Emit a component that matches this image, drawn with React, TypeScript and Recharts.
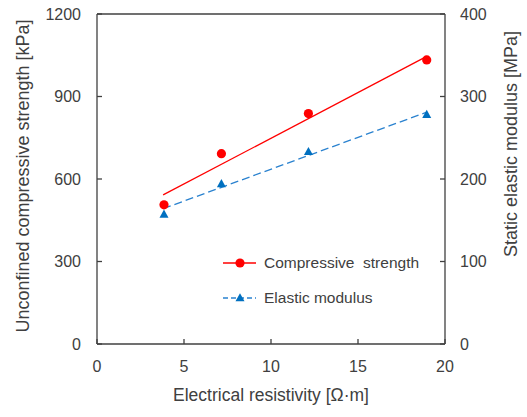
import { ComposedChart, Line, Scatter, XAxis, YAxis, ReferenceLine, Label } from 'recharts';

// measured points
const resistivity = [3.85, 7.15, 12.15, 18.95];
const strength = [506, 692, 838, 1033]; // kPa
const modulus = [157, 194, 233, 278]; // MPa

// fitted trend end points
const fitX = [3.8, 18.95];
const strengthFit = [542, 1046];
const modulusFit = [164, 281];

const xTicks = [0, 5, 10, 15, 20];
const kpaTicks = [0, 300, 600, 900, 1200];
const mpaTicks = [0, 100, 200, 300, 400];

const W = 527;
const H = 417;
const AXIS = '#404040';
const RED = '#ff0000';
const BLUE = '#0070c0';
const BLUE_LINE = '#2a82cf';
const FONT = '"Liberation Sans", Arial, sans-serif';
const TRI = 9;

const strengthPts = resistivity.map((x, i) => ({ x, y: strength[i] }));
const modulusPts = resistivity.map((x, i) => ({ x, y: modulus[i] }));
const strengthLine = fitX.map((x, i) => ({ x, y: strengthFit[i] }));
const modulusLine = fitX.map((x, i) => ({ x, y: modulusFit[i] }));

const tick = { fill: AXIS, fontSize: 16, fontFamily: FONT };

function Triangle({ cx, cy }: { cx?: number; cy?: number }) {
  if (cx == null || cy == null) return null;
  const h = TRI * 0.9;
  return (
    <path
      d={`M${cx},${cy - h * 0.6} L${cx + TRI / 2},${cy + h * 0.4} L${cx - TRI / 2},${cy + h * 0.4} Z`}
      fill={BLUE}
    />
  );
}

function Dot({ cx, cy }: { cx?: number; cy?: number }) {
  if (cx == null || cy == null) return null;
  return <circle cx={cx} cy={cy} r={4.6} fill={RED} />;
}

function Legend() {
  return (
    <svg width={W} height={H} style={{ position: 'absolute', left: 0, top: 0, pointerEvents: 'none' }}>
      <line x1={223} x2={256} y1={263} y2={263} stroke={RED} strokeWidth={1.3} />
      <circle cx={240} cy={263} r={4.6} fill={RED} />
      <text x={264} y={263} dy="0.35em" fontSize={15.5} fontFamily={FONT} fill={AXIS} style={{ whiteSpace: 'pre' }}>
        {'Compressive  strength'}
      </text>
      <line x1={223} x2={256} y1={298} y2={298} stroke={BLUE_LINE} strokeWidth={1.3} strokeDasharray="5 3" />
      <Triangle cx={240} cy={298} />
      <text x={264} y={298} dy="0.35em" fontSize={15.5} fontFamily={FONT} fill={AXIS}>
        Elastic modulus
      </text>
    </svg>
  );
}

export default function App() {
  return (
    <div style={{ position: 'absolute', left: 0, top: 0, width: W, height: H, background: '#fff' }}>
      <ComposedChart width={W} height={H} margin={{ top: 14, right: 22, bottom: 23, left: 37 }}>
        <XAxis
          type="number"
          dataKey="x"
          domain={[0, 20]}
          ticks={xTicks}
          tickSize={-5}
          tickMargin={22}
          height={50}
          stroke={AXIS}
          strokeWidth={1.3}
          tick={tick}
        >
          <Label
            content={() => (
              <text x={271} y={401} textAnchor="middle" fontSize={17.5} fontFamily={FONT} fill={AXIS}>
                Electrical resistivity [Ω·m]
              </text>
            )}
          />
        </XAxis>
        <YAxis
          yAxisId="kpa"
          type="number"
          domain={[0, 1200]}
          ticks={kpaTicks}
          tickSize={-5}
          tickMargin={21}
          width={60}
          stroke={AXIS}
          strokeWidth={1.3}
          tick={tick}
        >
          <Label
            content={() => (
              <text
                x={28.5}
                y={176}
                transform="rotate(-90 28.5 176)"
                textAnchor="middle"
                fontSize={18}
                fontFamily={FONT}
                fill={AXIS}
              >
                Unconfined compressive strength [kPa]
              </text>
            )}
          />
        </YAxis>
        <YAxis
          yAxisId="mpa"
          orientation="right"
          type="number"
          domain={[0, 400]}
          ticks={mpaTicks}
          tickSize={-5}
          tickMargin={20}
          width={60}
          stroke={AXIS}
          strokeWidth={1.3}
          tick={{ ...tick, textAnchor: 'start' }}
        >
          <Label
            content={() => (
              <text
                x={517}
                y={144}
                transform="rotate(-90 517 144)"
                textAnchor="middle"
                fontSize={18}
                fontFamily={FONT}
                fill={AXIS}
              >
                Static elastic modulus [MPa]
              </text>
            )}
          />
        </YAxis>
        <ReferenceLine yAxisId="kpa" y={1200} stroke={AXIS} strokeWidth={1.3} />
        <Line
          yAxisId="kpa"
          data={strengthLine}
          dataKey="y"
          type="linear"
          stroke={RED}
          strokeWidth={1.3}
          dot={false}
          activeDot={false}
          isAnimationActive={false}
        />
        <Line
          yAxisId="mpa"
          data={modulusLine}
          dataKey="y"
          type="linear"
          stroke={BLUE_LINE}
          strokeWidth={1.3}
          strokeDasharray="8 4"
          dot={false}
          activeDot={false}
          isAnimationActive={false}
        />
        <Scatter yAxisId="kpa" data={strengthPts} dataKey="y" shape={<Dot />} isAnimationActive={false} />
        <Scatter yAxisId="mpa" data={modulusPts} dataKey="y" shape={<Triangle />} isAnimationActive={false} />
      </ComposedChart>
      <Legend />
    </div>
  );
}
